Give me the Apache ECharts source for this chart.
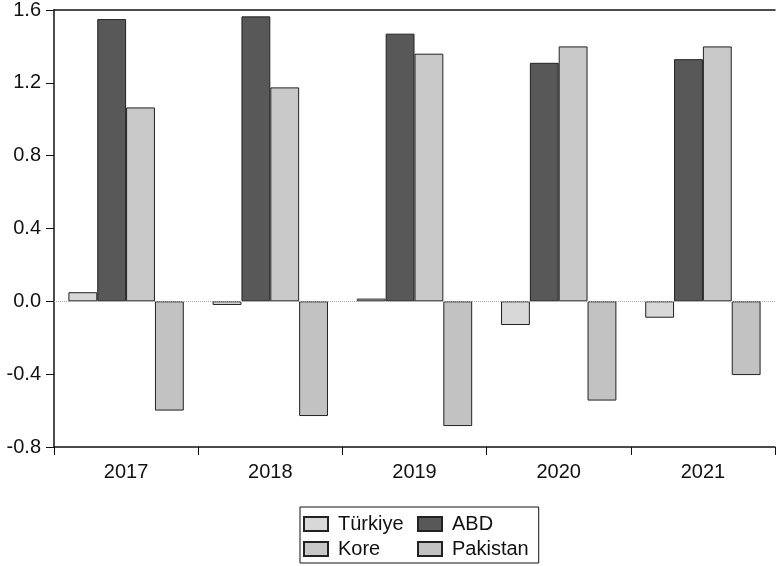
<!DOCTYPE html>
<html>
<head>
<meta charset="utf-8">
<script src="https://cdn.jsdelivr.net/npm/echarts@6/dist/echarts.min.js"></script>
<style>html,body{margin:0;padding:0;background:#fff}#c{width:777px;height:566px}</style>
</head>
<body>
<div id="c"></div>
<script>
var categories = ['2017', '2018', '2019', '2020', '2021'];
var turkiye = [0.05, -0.02, 0.015, -0.13, -0.09];
var abd = [1.55, 1.565, 1.47, 1.31, 1.33];
var kore = [1.065, 1.175, 1.36, 1.40, 1.40];
var pakistan = [-0.60, -0.63, -0.685, -0.545, -0.405];
var yTicks = [-0.8, -0.4, 0.0, 0.4, 0.8, 1.2, 1.6];

var font = 'Arial, "Liberation Sans", sans-serif';
var chart = echarts.init(document.getElementById('c'));
function bar(name, data, color, extra) {
  var s = {
    name: name, type: 'bar', data: data, barGap: '0%', barCategoryGap: '20%',
    itemStyle: { color: color, borderColor: '#222', borderWidth: 1 },
    emphasis: { disabled: true }
  };
  if (extra) Object.assign(s, extra);
  return s;
}
chart.setOption({
  animation: false,
  backgroundColor: '#fff',
  textStyle: { fontFamily: font },
  grid: { left: 54, right: 2, top: 10, bottom: 119 },
  xAxis: [{
    type: 'category', data: categories, position: 'bottom',
    axisLine: { onZero: false, lineStyle: { color: '#111', width: 1.5 } },
    axisTick: { show: true, length: 8, lineStyle: { color: '#111' } },
    axisLabel: { color: '#111', fontSize: 20, margin: 15, fontFamily: font }
  }, {
    type: 'category', data: categories, position: 'top',
    axisLine: { onZero: false, lineStyle: { color: '#111', width: 1.5 } },
    axisTick: { show: false }, axisLabel: { show: false }
  }],
  yAxis: {
    type: 'value', min: -0.8, max: 1.6, interval: 0.4,
    axisLine: { show: true, onZero: false, lineStyle: { color: '#111', width: 1.5 } },
    axisTick: { show: true, length: 8, lineStyle: { color: '#111' } },
    splitLine: { show: false },
    axisLabel: {
      color: '#111', fontSize: 20, margin: 13, fontFamily: font,
      formatter: function (v) { return v.toFixed(1); }
    }
  },
  legend: {
    orient: 'vertical', left: 300, top: 507, height: 45,
    data: ['Türkiye', 'Kore', 'ABD', 'Pakistan'],
    icon: 'rect',
    itemWidth: 24, itemHeight: 14, itemGap: 5,
    padding: [7, 10, 4, 3],
    borderColor: '#111', borderWidth: 1,
    textStyle: { fontSize: 20, color: '#111', lineHeight: 20, width: 74, padding: [0, 0, 0, 5], fontFamily: font }
  },
  series: [
    bar('Türkiye', turkiye, '#d8d8d8', {
      markLine: {
        silent: true, symbol: 'none', label: { show: false },
        lineStyle: { color: '#aaa', type: 'dotted', width: 1 },
        data: [{ yAxis: 0 }]
      }
    }),
    bar('ABD', abd, '#585858'),
    bar('Kore', kore, '#c8c8c8'),
    bar('Pakistan', pakistan, '#c2c2c2')
  ]
});
</script>
</body>
</html>
